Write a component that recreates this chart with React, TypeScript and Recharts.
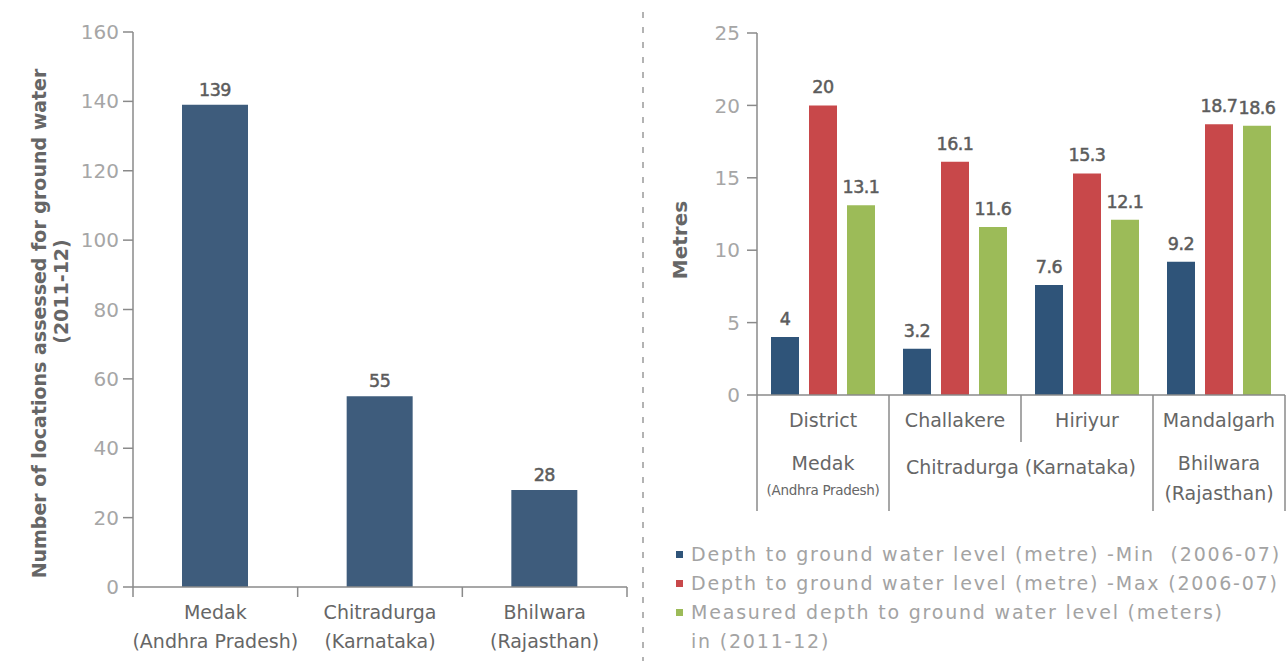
import React from "react";
import { Bar, BarChart, Label, LabelList, XAxis, YAxis } from "recharts";

const FONT = "'DejaVu Sans', 'Liberation Sans', sans-serif";
const AXIS = "#8a8a8a";
const TICK_TEXT = "#a6a6a6";
const LABEL_TEXT = "#666666";

// left panel: locations assessed
const districts = ["Medak", "Chitradurga", "Bhilwara"];
const districtStates = ["(Andhra Pradesh)", "(Karnataka)", "(Rajasthan)"];
const locationsAssessed = [139, 55, 28];
const locationTicks = [0, 20, 40, 60, 80, 100, 120, 140, 160];

// right panel: depth to ground water
const sites = ["District", "Challakere", "Hiriyur", "Mandalgarh"];
const depthMin = [4, 3.2, 7.6, 9.2];
const depthMax = [20, 16.1, 15.3, 18.7];
const depthMeasured = [13.1, 11.6, 12.1, 18.6];
const metreTicks = [0, 5, 10, 15, 20, 25];
const regionNames = ["Medak", "Chitradurga (Karnataka)", "Bhilwara"];
const regionSubs = ["(Andhra Pradesh)", "", "(Rajasthan)"];
const regionSpans = [1, 2, 1];

const SERIES = [
  {
    key: "min",
    label: "Depth to ground water level (metre) -Min  (2006-07)",
    color: "#2f5479",
  },
  {
    key: "max",
    label: "Depth to ground water level (metre) -Max (2006-07)",
    color: "#c8484a",
  },
  {
    key: "measured",
    label: "Measured depth to ground water level (meters)\nin (2011-12)",
    color: "#9cbb58",
  },
];

const LEFT_W = 640;
const LEFT_MARGIN = { top: 32, right: 13, left: 73, bottom: 14 };
const RIGHT_W = 644;
const RIGHT_MARGIN = { top: 33, right: 2, left: 54, bottom: 226 };
const Y_AXIS_W = 60;

const leftData = districts.map((d, i) => ({
  name: d,
  locations: locationsAssessed[i],
}));

const rightData = sites.map((s, i) => ({
  name: s,
  min: depthMin[i],
  max: depthMax[i],
  measured: depthMeasured[i],
}));

// first site index of each region
const regionStarts = regionSpans.reduce<number[]>(
  (acc, s, i) => [...acc, i === 0 ? 0 : acc[i - 1] + regionSpans[i - 1]],
  [],
);

const txt = {
  fontFamily: FONT,
  fill: LABEL_TEXT,
  fontSize: 19,
};

const bandOf = (props: any, fallbackWidth: number, n: number) => {
  const w = Number(props.width) > 0 ? Number(props.width) : fallbackWidth;
  const count = Number(props.visibleTicksCount) > 0 ? Number(props.visibleTicksCount) : n;
  return w / count;
};

function DistrictTick(props: any) {
  const { x, y, payload, index } = props;
  const band = bandOf(
    props,
    LEFT_W - LEFT_MARGIN.left - LEFT_MARGIN.right - Y_AXIS_W,
    districts.length,
  );
  const i = districts.indexOf(payload.value);
  const last = index === districts.length - 1;
  return (
    <g>
      <line x1={x - band / 2} x2={x - band / 2} y1={y} y2={y + 10} stroke={AXIS} strokeWidth={1.5} />
      {last && (
        <line x1={x + band / 2} x2={x + band / 2} y1={y} y2={y + 10} stroke={AXIS} strokeWidth={1.5} />
      )}
      <text x={x} y={y + 25} textAnchor="middle" dominantBaseline="central" {...txt}>
        {payload.value}
      </text>
      <text x={x} y={y + 54} textAnchor="middle" dominantBaseline="central" {...txt}>
        {districtStates[i]}
      </text>
    </g>
  );
}

function SiteTick(props: any) {
  const { x, y, payload, index } = props;
  const band = bandOf(
    props,
    RIGHT_W - RIGHT_MARGIN.left - RIGHT_MARGIN.right - Y_AXIS_W,
    sites.length,
  );
  const left = x - band / 2;
  const r = regionStarts.indexOf(index);
  const last = index === sites.length - 1;
  const sub = r >= 0 ? regionSubs[r] : "";
  const small = sub.length > 12;
  const cx = r >= 0 ? left + (regionSpans[r] * band) / 2 : x;
  return (
    <g>
      <line
        x1={left}
        x2={left}
        y1={y}
        y2={y + (r >= 0 ? 116 : 47)}
        stroke={AXIS}
        strokeWidth={1.5}
      />
      {last && (
        <line x1={x + band / 2} x2={x + band / 2} y1={y} y2={y + 116} stroke={AXIS} strokeWidth={1.5} />
      )}
      <text x={x} y={y + 25} textAnchor="middle" dominantBaseline="central" {...txt}>
        {payload.value}
      </text>
      {r >= 0 && (
        <text
          x={cx}
          y={y + (sub ? 68 : 72)}
          textAnchor="middle"
          dominantBaseline="central"
          {...txt}
        >
          {regionNames[r]}
        </text>
      )}
      {sub && (
        <text
          x={cx}
          y={y + (small ? 95 : 98)}
          textAnchor="middle"
          dominantBaseline="central"
          {...txt}
          fontSize={small ? 13.5 : 19}
          letterSpacing={small ? -0.3 : 0}
        >
          {sub}
        </text>
      )}
    </g>
  );
}

function LeftTitle({ viewBox }: any) {
  const cy = viewBox.y + viewBox.height / 2;
  const x1 = viewBox.x - 34;
  const x2 = viewBox.x - 12;
  return (
    <g>
      <text
        x={x1}
        y={cy + 14}
        transform={`rotate(-90, ${x1}, ${cy + 14})`}
        textAnchor="middle"
        dominantBaseline="central"
        {...txt}
        fontSize={19}
        fontWeight="bold"
      >
        Number of locations assessed for ground water
      </text>
      <text
        x={x2}
        y={cy - 18}
        transform={`rotate(-90, ${x2}, ${cy - 18})`}
        textAnchor="middle"
        dominantBaseline="central"
        {...txt}
        fontSize={19}
        fontWeight="bold"
      >
        (2011-12)
      </text>
    </g>
  );
}

function RightTitle({ viewBox }: any) {
  const cy = viewBox.y + viewBox.height / 2 + 26;
  const x = viewBox.x - 17;
  return (
    <text
      x={x}
      y={cy}
      transform={`rotate(-90, ${x}, ${cy})`}
      textAnchor="middle"
      dominantBaseline="central"
      {...txt}
      fontSize={20}
      fontWeight="bold"
    >
      Metres
    </text>
  );
}

const valueLabel = {
  fill: "#5c5c5c",
  stroke: "#5c5c5c",
  strokeWidth: 0.5,
  fontSize: 17.5,
  letterSpacing: -0.5,
  fontFamily: FONT,
};

const yTick = { fill: TICK_TEXT, fontSize: 20, fontFamily: FONT };

export default function App() {
  return (
    <div
      style={{
        position: "absolute",
        left: 0,
        top: 0,
        width: 1287,
        height: 661,
        background: "#fff",
        overflow: "hidden",
      }}
    >
      <div style={{ position: "absolute", left: 0, top: 0 }}>
        <BarChart width={LEFT_W} height={661} data={leftData} margin={LEFT_MARGIN}>
          <XAxis
            dataKey="name"
            height={60}
            interval={0}
            tickLine={false}
            tickSize={0}
            tickMargin={0}
            axisLine={{ stroke: AXIS, strokeWidth: 1.5 }}
            tick={<DistrictTick />}
          />
          <YAxis
            width={Y_AXIS_W}
            domain={[0, 160]}
            ticks={locationTicks}
            interval={0}
            tickSize={10}
            tickMargin={4}
            axisLine={{ stroke: AXIS, strokeWidth: 1.5 }}
            tickLine={{ stroke: AXIS, strokeWidth: 1.5 }}
            tick={yTick}
          >
            <Label content={<LeftTitle />} />
          </YAxis>
          <Bar dataKey="locations" fill="#3e5c7c" barSize={66} isAnimationActive={false}>
            <LabelList dataKey="locations" position="top" offset={9} style={valueLabel} />
          </Bar>
        </BarChart>
      </div>

      <svg
        style={{ position: "absolute", left: 0, top: 0 }}
        width={1287}
        height={661}
        pointerEvents="none"
      >
        <line
          x1={643}
          x2={643}
          y1={12}
          y2={661}
          stroke="#9a9a9a"
          strokeWidth={1.5}
          strokeDasharray="6 9"
        />
      </svg>

      <div style={{ position: "absolute", left: 643, top: 0 }}>
        <BarChart
          width={RIGHT_W}
          height={661}
          data={rightData}
          barSize={28}
          barGap={10}
          margin={RIGHT_MARGIN}
        >
          <XAxis
            dataKey="name"
            height={40}
            interval={0}
            tickLine={false}
            tickSize={0}
            tickMargin={0}
            axisLine={{ stroke: AXIS, strokeWidth: 1.5 }}
            tick={<SiteTick />}
          />
          <YAxis
            width={Y_AXIS_W}
            domain={[0, 25]}
            ticks={metreTicks}
            interval={0}
            tickSize={10}
            tickMargin={7}
            axisLine={{ stroke: AXIS, strokeWidth: 1.5 }}
            tickLine={{ stroke: AXIS, strokeWidth: 1.5 }}
            tick={yTick}
          >
            <Label content={<RightTitle />} />
          </YAxis>
          {SERIES.map((s) => (
            <Bar
              key={s.key}
              dataKey={s.key}
              name={s.label}
              fill={s.color}
              isAnimationActive={false}
            >
              <LabelList dataKey={s.key} position="top" offset={12} style={valueLabel} />
            </Bar>
          ))}
        </BarChart>
      </div>

      <div
        style={{
          position: "absolute",
          left: 676,
          top: 540,
          fontFamily: FONT,
          fontSize: 19,
          color: "#a3a3a3",
          letterSpacing: 1.8,
          lineHeight: "29px",
        }}
      >
        {SERIES.map((s) => (
          <div key={s.key} style={{ display: "flex", alignItems: "flex-start" }}>
            <span
              style={{
                width: 7,
                height: 7,
                marginTop: 11,
                marginRight: 8,
                background: s.color,
                flexShrink: 0,
              }}
            />
            <span style={{ whiteSpace: "pre-wrap" }}>{s.label}</span>
          </div>
        ))}
      </div>
    </div>
  );
}
